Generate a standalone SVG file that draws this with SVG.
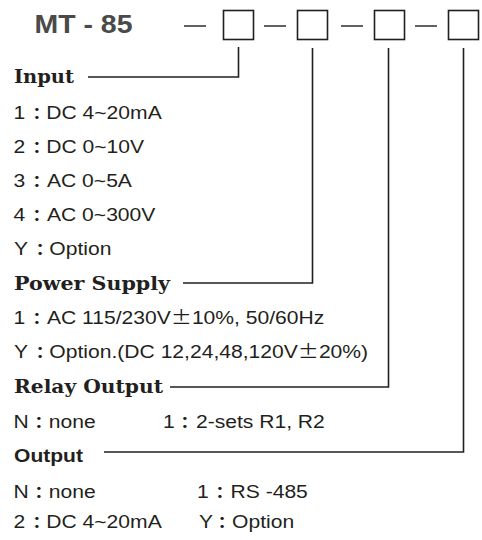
<svg xmlns="http://www.w3.org/2000/svg" width="482" height="540" viewBox="0 0 482 540">
<style>
.bg{fill:#ffffff}
.ln{fill:none;stroke:#231f20;stroke-width:1.6;stroke-linecap:butt;stroke-linejoin:miter}
.box{fill:none;stroke:#231f20;stroke-width:1.6}
.dash{stroke:#3a3a3a;stroke-width:1.6}
.title{font-family:"Liberation Sans",Arial,sans-serif;font-weight:bold;font-size:25px;fill:#4a4a4a}
.head{font-family:"DejaVu Serif","Liberation Serif",serif;font-weight:bold;font-size:19px;fill:#231f20}
.heads{font-family:"Liberation Sans",Arial,sans-serif;font-weight:bold;font-size:19px;fill:#231f20}
.body{font-family:"Liberation Sans",Arial,"Noto Sans CJK JP",sans-serif;font-size:18.5px;fill:#231f20}
.cj{font-family:"Noto Sans CJK JP",sans-serif}
.co{font-family:"Noto Sans CJK JP",sans-serif;font-size:16px;font-weight:bold}
</style>
<rect class="bg" x="0" y="0" width="482" height="540"/>
<g id="title">
<text class="title" x="34.5" y="33" textLength="98" lengthAdjust="spacingAndGlyphs">MT - 85</text>
<line class="dash" x1="184" y1="26" x2="206" y2="26"/>
<rect class="box" x="223.5" y="10.5" width="30" height="29"/>
<line class="dash" x1="264" y1="26" x2="286" y2="26"/>
<rect class="box" x="297.5" y="10.5" width="30" height="29"/>
<line class="dash" x1="341" y1="26" x2="363" y2="26"/>
<rect class="box" x="374.5" y="10.5" width="30" height="29"/>
<line class="dash" x1="415" y1="26" x2="437" y2="26"/>
<rect class="box" x="448.5" y="10.5" width="30" height="29"/>
</g>
<g id="connectors">
<polyline class="ln" points="238.5,47 238.5,77 88,77"/>
<polyline class="ln" points="312.5,48 312.5,283 183,283"/>
<polyline class="ln" points="388.5,48 388.5,387 170,387"/>
<polyline class="ln" points="463.5,48 463.5,452 104,452"/>
</g>
<g id="input">
<text class="head" x="14" y="83" textLength="60" lengthAdjust="spacingAndGlyphs">Input</text>
<g transform="scale(1.14 1)" class="body">
<text x="11.84" y="119">1<tspan class="co" x="24.46">：</tspan><tspan x="40.6">DC 4~20mA</tspan></text>
<text x="11.84" y="153">2<tspan class="co" x="24.46">：</tspan><tspan x="40.6">DC 0~10V</tspan></text>
<text x="11.84" y="187">3<tspan class="co" x="24.46">：</tspan><tspan x="41.2">AC 0~5A</tspan></text>
<text x="11.84" y="221">4<tspan class="co" x="24.46">：</tspan><tspan x="41.2">AC 0~300V</tspan></text>
<text x="12.3" y="255">Y<tspan class="co" x="27.09">：</tspan><tspan x="43.3">Option</tspan></text>
</g>
</g>
<g id="power">
<text class="head" x="14" y="290" textLength="156" lengthAdjust="spacingAndGlyphs">Power  Supply</text>
<g transform="scale(1.14 1)" class="body">
<text x="11.84" y="324">1<tspan class="co" x="24.46">：</tspan><tspan x="41.2">AC 115/230V</tspan><tspan class="cj">±</tspan><tspan>10%, 50/60Hz</tspan></text>
<text x="12.3" y="358">Y<tspan class="co" x="27.09">：</tspan><tspan x="43.3">Option.(DC 12,24,48,120V</tspan><tspan class="cj">±</tspan><tspan>20%)</tspan></text>
</g>
</g>
<g id="relay">
<text class="head" x="14" y="393" textLength="149" lengthAdjust="spacingAndGlyphs">Relay  Output</text>
<g transform="scale(1.14 1)" class="body">
<text x="11.84" y="428">N<tspan class="co" x="26.21">：</tspan><tspan x="42.8">none</tspan></text>
<text x="143.0" y="428">1<tspan class="co" x="154.28">：</tspan><tspan x="171.9">2-sets R1, R2</tspan></text>
</g>
</g>
<g id="output">
<text class="heads" x="14" y="462" textLength="69" lengthAdjust="spacingAndGlyphs">Output</text>
<g transform="scale(1.14 1)" class="body">
<text x="11.84" y="498">N<tspan class="co" x="26.21">：</tspan><tspan x="42.8">none</tspan></text>
<text x="172.8" y="498">1<tspan class="co" x="184.98">：</tspan><tspan x="202.2">RS -485</tspan></text>
<text x="11.84" y="528">2<tspan class="co" x="24.46">：</tspan><tspan x="40.6">DC 4~20mA</tspan></text>
<text x="174.6" y="528">Y<tspan class="co" x="186.74">：</tspan><tspan x="203.6">Option</tspan></text>
</g>
</g>
</svg>
